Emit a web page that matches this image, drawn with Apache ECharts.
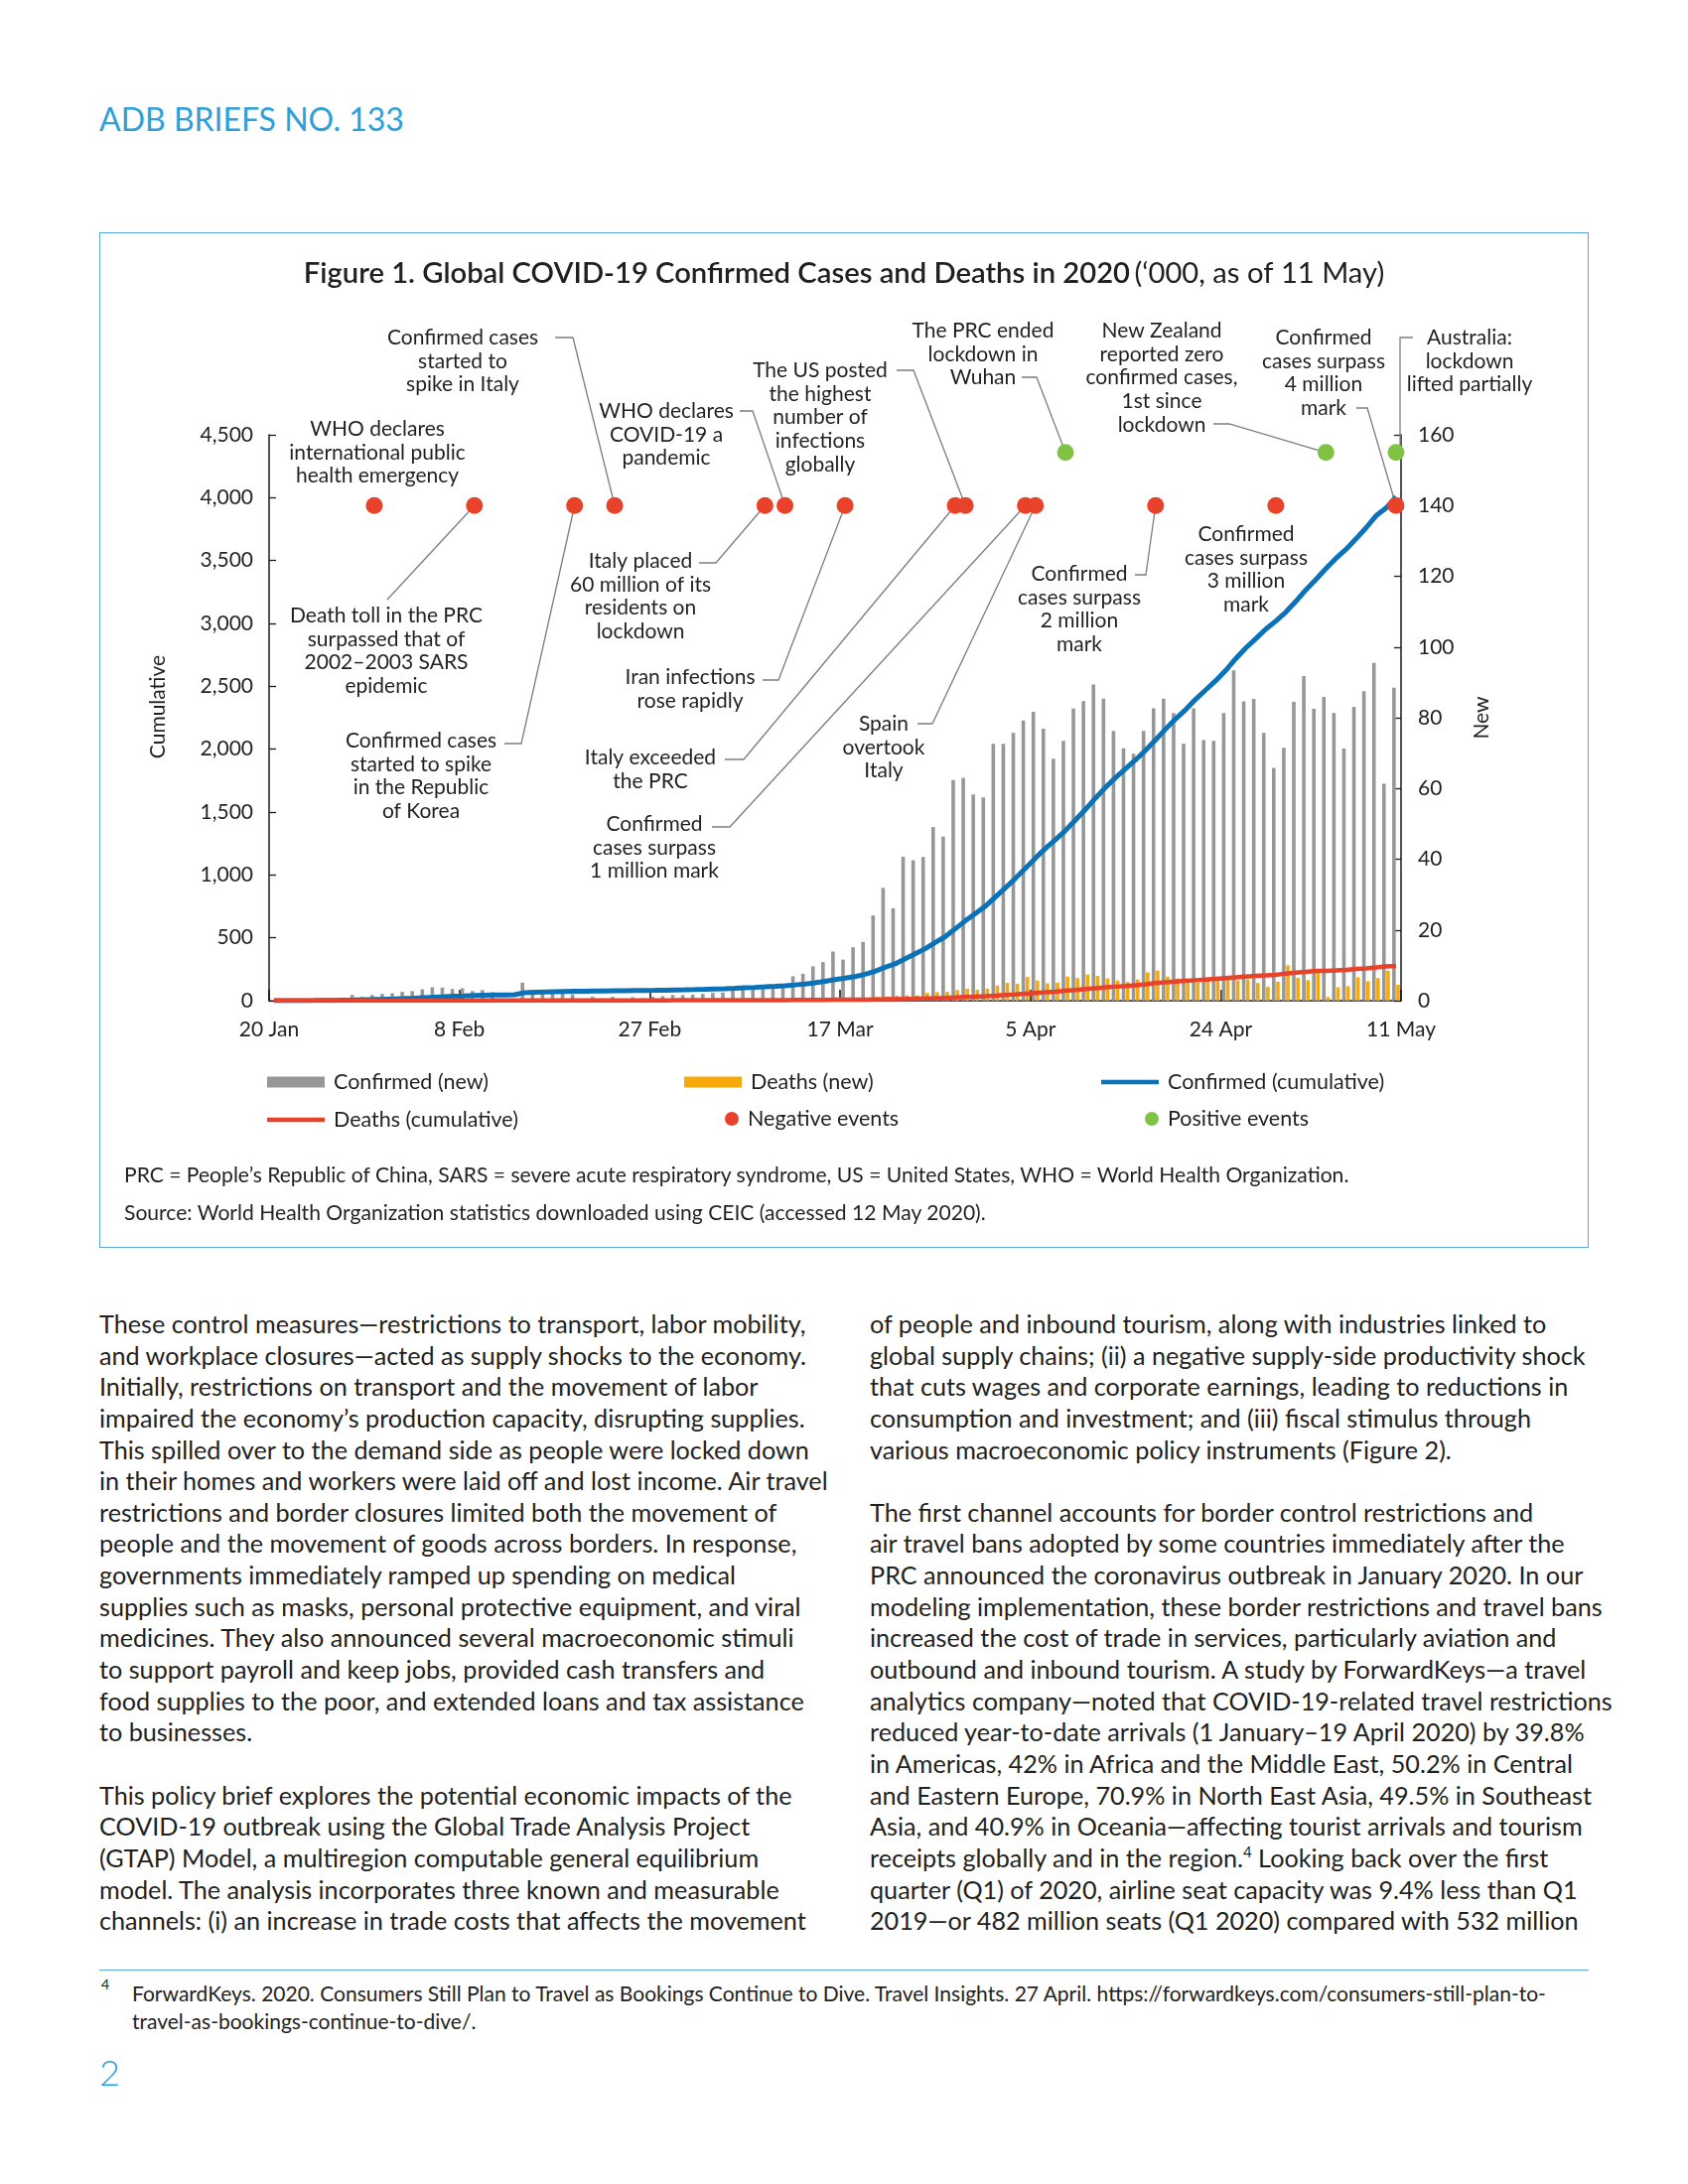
<!DOCTYPE html>
<html>
<head>
<meta charset="utf-8">
<script src="https://cdn.jsdelivr.net/npm/echarts@6.0.0/dist/echarts.min.js"></script>
<style>
  html, body { margin: 0; padding: 0; background: #ffffff; }
  body { width: 1700px; height: 2200px; position: relative; font-family: Lato, "Open Sans", sans-serif; color: #231f20; overflow: hidden; }
  #hdr { position: absolute; left: 100px; top: 100px; font-size: 32px; line-height: 40px; color: #2d9fd9; }
  #box { position: absolute; left: 100px; top: 234px; width: 1500px; height: 1023px; border: 1.5px solid #5aa8d8; box-sizing: border-box; }
  #chart { position: absolute; left: 0; top: 0; width: 1700px; height: 1270px; }
  .note { position: absolute; left: 125px; font-size: 21.1px; line-height: 24px; white-space: nowrap; }
  .col { position: absolute; top: 1318px; font-size: 25.2px; line-height: 31.65px; white-space: nowrap; }
  .col div { height: 31.65px; }
  sup { font-size: 15px; line-height: 0; vertical-align: 10px; }
  #rule { position: absolute; left: 100px; top: 1984px; width: 1500px; height: 0; border-top: 1.2px solid #5aa8d8; }
  #fn { position: absolute; left: 133px; top: 1994px; font-size: 21px; line-height: 28px; white-space: nowrap; }
  #fnum { position: absolute; left: 102px; top: 1991px; font-size: 14px; line-height: 16px; }
  #pg { position: absolute; left: 100px; top: 2066px; font-size: 36px; line-height: 42px; color: #2d9fd9; font-weight: 300; }
</style>
</head>
<body>
<div id="hdr">ADB BRIEFS NO. 133</div>
<div id="box"></div>
<div id="chart"></div>
<div class="note" style="top:1171px">PRC = People’s Republic of China, SARS = severe acute respiratory syndrome, US = United States, WHO = World Health Organization.</div>
<div class="note" style="top:1209px">Source: World Health Organization statistics downloaded using CEIC (accessed 12 May 2020).</div>

<div class="col" style="left:100px">
<div>These control measures—restrictions to transport, labor mobility,</div>
<div>and workplace closures—acted as supply shocks to the economy.</div>
<div>Initially, restrictions on transport and the movement of labor</div>
<div>impaired the economy’s production capacity, disrupting supplies.</div>
<div>This spilled over to the demand side as people were locked down</div>
<div>in their homes and workers were laid off and lost income. Air travel</div>
<div>restrictions and border closures limited both the movement of</div>
<div>people and the movement of goods across borders. In response,</div>
<div>governments immediately ramped up spending on medical</div>
<div>supplies such as masks, personal protective equipment, and viral</div>
<div>medicines. They also announced several macroeconomic stimuli</div>
<div>to support payroll and keep jobs, provided cash transfers and</div>
<div>food supplies to the poor, and extended loans and tax assistance</div>
<div>to businesses.</div>
<div></div>
<div>This policy brief explores the potential economic impacts of the</div>
<div>COVID-19 outbreak using the Global Trade Analysis Project</div>
<div>(GTAP) Model, a multiregion computable general equilibrium</div>
<div>model. The analysis incorporates three known and measurable</div>
<div>channels: (i) an increase in trade costs that affects the movement</div>
</div>

<div class="col" style="left:876px">
<div>of people and inbound tourism, along with industries linked to</div>
<div>global supply chains; (ii) a negative supply-side productivity shock</div>
<div>that cuts wages and corporate earnings, leading to reductions in</div>
<div>consumption and investment; and (iii) fiscal stimulus through</div>
<div>various macroeconomic policy instruments (Figure 2).</div>
<div></div>
<div>The first channel accounts for border control restrictions and</div>
<div>air travel bans adopted by some countries immediately after the</div>
<div>PRC announced the coronavirus outbreak in January 2020. In our</div>
<div>modeling implementation, these border restrictions and travel bans</div>
<div>increased the cost of trade in services, particularly aviation and</div>
<div>outbound and inbound tourism. A study by ForwardKeys—a travel</div>
<div>analytics company—noted that COVID-19-related travel restrictions</div>
<div>reduced year-to-date arrivals (1 January–19 April 2020) by 39.8%</div>
<div>in Americas, 42% in Africa and the Middle East, 50.2% in Central</div>
<div>and Eastern Europe, 70.9% in North East Asia, 49.5% in Southeast</div>
<div>Asia, and 40.9% in Oceania—affecting tourist arrivals and tourism</div>
<div>receipts globally and in the region.<sup>4</sup> Looking back over the first</div>
<div>quarter (Q1) of 2020, airline seat capacity was 9.4% less than Q1</div>
<div>2019—or 482 million seats (Q1 2020) compared with 532 million</div>
</div>

<div id="rule"></div>
<div id="fnum">4</div>
<div id="fn">ForwardKeys. 2020. Consumers Still Plan to Travel as Bookings Continue to Dive. Travel Insights. 27 April. https://forwardkeys.com/consumers-still-plan-to-<br>travel-as-bookings-continue-to-dive/.</div>
<div id="pg">2</div>

<script>
// ---------------- DATA ----------------
const categories = [
  '20 Jan','21 Jan','22 Jan','23 Jan','24 Jan','25 Jan','26 Jan','27 Jan','28 Jan','29 Jan','30 Jan','31 Jan',
  '1 Feb','2 Feb','3 Feb','4 Feb','5 Feb','6 Feb','7 Feb','8 Feb','9 Feb','10 Feb','11 Feb','12 Feb','13 Feb','14 Feb','15 Feb',
  '16 Feb','17 Feb','18 Feb','19 Feb','20 Feb','21 Feb','22 Feb','23 Feb','24 Feb','25 Feb','26 Feb','27 Feb','28 Feb','29 Feb',
  '1 Mar','2 Mar','3 Mar','4 Mar','5 Mar','6 Mar','7 Mar','8 Mar','9 Mar','10 Mar','11 Mar','12 Mar','13 Mar','14 Mar','15 Mar',
  '16 Mar','17 Mar','18 Mar','19 Mar','20 Mar','21 Mar','22 Mar','23 Mar','24 Mar','25 Mar','26 Mar','27 Mar','28 Mar','29 Mar',
  '30 Mar','31 Mar',
  '1 Apr','2 Apr','3 Apr','4 Apr','5 Apr','6 Apr','7 Apr','8 Apr','9 Apr','10 Apr','11 Apr','12 Apr','13 Apr','14 Apr','15 Apr',
  '16 Apr','17 Apr','18 Apr','19 Apr','20 Apr','21 Apr','22 Apr','23 Apr','24 Apr','25 Apr','26 Apr','27 Apr','28 Apr','29 Apr',
  '30 Apr',
  '1 May','2 May','3 May','4 May','5 May','6 May','7 May','8 May','9 May','10 May','11 May'
];

// '000, new confirmed cases per day (right axis)
const confirmedNew = [
  0.3, 0.03, 0.27, 0.27, 0.47, 0.5, 0.5, 0.5, 1.6, 1.1,
  1.6, 1.9, 2.1, 2.5, 2.7, 3.2, 3.8, 3.7, 3.3, 3.5,
  2.7, 3.0, 2.4, 0.6, 0.6, 5.1, 2.0, 2.0, 2.0, 2.0,
  1.8, 0.5, 1.1, 0.6, 1.1, 0.5, 1.0, 0.7, 1.1, 1.3,
  1.6, 1.6, 1.7, 1.9, 2.2, 2.3, 3.2, 3.2, 3.3, 3.4,
  3.5, 3.7, 6.9, 7.6, 9.7, 10.9, 13.9, 11.6, 15.1, 16.6,
  24.1, 31.9, 26.1, 40.7, 39.7, 40.6, 49.1, 46.4, 62.4, 63.0,
  58.3, 57.5, 72.6, 72.6, 75.7, 79.2, 81.7, 76.9, 68.4, 73.5,
  82.6, 84.7, 89.4, 85.4, 76.3, 71.4, 69.8, 76.3, 82.7, 85.4,
  81.3, 72.6, 82.7, 73.7, 73.5, 81.3, 93.4, 84.6, 85.3, 75.7,
  65.8, 71.5, 84.5, 91.8, 82.5, 85.9, 81.3, 71.3, 83.1, 87.5,
  95.5, 61.3, 88.5
];

// '000, new deaths per day (right axis)
const deathsNew = [
  0, 0.006, 0.011, 0.008, 0.016, 0.015, 0.024, 0.026, 0.026, 0.038,
  0.043, 0.046, 0.045, 0.058, 0.064, 0.066, 0.073, 0.073, 0.086, 0.089,
  0.097, 0.108, 0.097, 0.146, 0.122, 0.143, 0.143, 0.106, 0.098, 0.136,
  0.12, 0.118, 0.113, 0.102, 0.156, 0.086, 0.067, 0.033, 0.054, 0.066,
  0.053, 0.073, 0.06, 0.05, 0.125, 0.095, 0.106, 0.098, 0.225, 0.218,
  0.265, 0.321, 0.37, 0.415, 0.337, 0.705, 0.567, 0.419, 0.799, 0.553,
  1.062, 1.2, 1.4, 1.5, 1.5, 2.2, 2.4, 2.5, 3.0, 3.4,
  3.1, 3.4, 4.3, 5.0, 4.8, 6.7, 5.7, 4.9, 5.1, 6.8,
  6.4, 7.4, 7.0, 6.3, 5.7, 5.3, 6.0, 8.0, 8.5, 6.8,
  6.3, 5.3, 5.1, 5.6, 5.6, 6.0, 5.7, 6.0, 5.0, 3.9,
  5.4, 10.0, 6.5, 5.8, 8.0, 1.0, 3.8, 4.1, 6.6, 5.5,
  6.4, 8.5, 4.5
];

// '000, cumulative confirmed cases (left axis)
const confirmedCum = [
  0.28, 0.31, 0.58, 0.85, 1.32, 2.01, 2.80, 4.59, 6.07, 7.82,
  9.83, 11.95, 14.56, 17.39, 20.63, 24.55, 28.28, 31.48, 34.89, 37.56,
  40.55, 43.10, 45.17, 46.00, 47.00, 64.00, 66.50, 69.00, 71.43, 73.33,
  75.20, 75.75, 76.77, 77.79, 78.81, 79.33, 80.24, 81.11, 82.29, 83.65,
  85.40, 87.14, 88.95, 90.87, 93.09, 95.32, 98.19, 101.93, 105.59, 109.58,
  113.70, 118.32, 125.26, 132.76, 142.53, 153.52, 167.52, 179.11, 191.13, 209.84,
  234.07, 266.07, 292.14, 332.93, 372.76, 413.47, 462.68, 509.16, 571.68, 634.84,
  693.22, 750.89, 823.63, 896.45, 972.30, 1051.64, 1133.76, 1210.96, 1279.72, 1353.36,
  1436.20, 1521.25, 1610.91, 1696.59, 1773.08, 1844.86, 1914.92, 1991.56, 2074.53, 2160.21,
  2241.78, 2314.62, 2397.22, 2471.14, 2544.79, 2626.32, 2719.90, 2804.80, 2878.20, 2954.22,
  3018.95, 3090.45, 3175.21, 3267.18, 3349.79, 3435.89, 3517.35, 3588.77, 3672.24, 3759.97,
  3855.79, 3917.37, 4006.26
];

// '000, cumulative deaths (left axis)
const deathsCum = [
  0, 0.006, 0.017, 0.025, 0.041, 0.056, 0.08, 0.106, 0.132, 0.17,
  0.213, 0.259, 0.304, 0.362, 0.426, 0.492, 0.565, 0.638, 0.724, 0.813,
  0.91, 1.018, 1.115, 1.261, 1.383, 1.526, 1.669, 1.775, 1.873, 2.009,
  2.129, 2.247, 2.36, 2.462, 2.618, 2.704, 2.771, 2.804, 2.858, 2.924,
  2.977, 3.05, 3.11, 3.16, 3.285, 3.38, 3.486, 3.584, 3.809, 4.027,
  4.292, 4.613, 4.983, 5.398, 5.735, 6.44, 7.007, 7.426, 8.225, 8.778,
  9.84, 11.0, 12.4, 13.9, 15.4, 17.6, 20.0, 22.5, 25.5, 28.9,
  32.0, 35.4, 39.7, 44.7, 49.5, 56.2, 61.9, 66.8, 71.9, 78.7,
  85.1, 92.5, 99.5, 105.8, 111.5, 116.8, 122.8, 130.8, 139.3, 146.1,
  152.4, 157.7, 162.8, 168.4, 174.0, 180.0, 185.7, 191.7, 196.7, 200.6,
  206.0, 216.0, 222.5, 228.3, 236.3, 237.3, 241.1, 245.2, 251.8, 257.3,
  263.7, 272.2, 276.7
];

// Event markers (plotted on the right axis)
const negativeEvents = ['30 Jan','9 Feb','19 Feb','23 Feb','9 Mar','11 Mar','17 Mar','28 Mar','29 Mar','4 Apr','5 Apr','17 Apr','29 Apr','11 May'];
const positiveEvents = ['8 Apr','4 May','11 May'];
const negativeLevel = 140;
const positiveLevel = 155;

// X tick labels at category boundaries
const xTickLabels = ['20 Jan','8 Feb','27 Feb','17 Mar','5 Apr','24 Apr','11 May'];
const xTickPositions = [0, 19, 38, 57, 76, 95, 113];

// Event annotations (text layout in pixels; leader ends at the event marker)
const annotations = [
  { lines: ['WHO declares','international public','health emergency'], cx: 380, cy: 432 },
  { lines: ['Confirmed cases','started to','spike in Italy'], cx: 466, cy: 340, lead: [[559,340],[577,340]], event: '23 Feb', kind: 'neg' },
  { lines: ['WHO declares','COVID-19 a','pandemic'], cx: 671, cy: 414, lead: [[745,414],[758,414]], event: '11 Mar', kind: 'neg' },
  { lines: ['The US posted','the highest','number of','infections','globally'], cx: 826, cy: 373, lead: [[903,373],[920,373]], event: '29 Mar', kind: 'neg' },
  { lines: ['The PRC ended','lockdown in','Wuhan'], cx: 990, cy: 333, lead: [[1029,380],[1044,380]], event: '8 Apr', kind: 'pos' },
  { lines: ['New Zealand','reported zero','confirmed cases,','1st since','lockdown'], cx: 1170, cy: 333, lead: [[1222,427],[1238,427]], event: '4 May', kind: 'pos' },
  { lines: ['Confirmed','cases surpass','4 million','mark'], cx: 1333, cy: 340, lead: [[1366,411],[1377,411]], event: '11 May', kind: 'neg' },
  { lines: ['Australia:','lockdown','lifted partially'], cx: 1480, cy: 340, lead: [[1423,340],[1410,340]], event: '11 May', kind: 'pos', vertical: true },
  { lines: ['Death toll in the PRC','surpassed that of','2002–2003 SARS','epidemic'], cx: 389, cy: 620, lead: [[390,604]], event: '9 Feb', kind: 'neg' },
  { lines: ['Confirmed cases','started to spike','in the Republic','of Korea'], cx: 424, cy: 746, lead: [[508,749],[525,749]], event: '19 Feb', kind: 'neg' },
  { lines: ['Italy placed','60 million of its','residents on','lockdown'], cx: 645, cy: 565, lead: [[704,567],[721,567]], event: '9 Mar', kind: 'neg' },
  { lines: ['Iran infections','rose rapidly'], cx: 695, cy: 682, lead: [[768,685],[784,685]], event: '17 Mar', kind: 'neg' },
  { lines: ['Italy exceeded','the PRC'], cx: 655, cy: 763, lead: [[730,765],[749,765]], event: '28 Mar', kind: 'neg' },
  { lines: ['Confirmed','cases surpass','1 million mark'], cx: 659, cy: 830, lead: [[717,833],[735,833]], event: '4 Apr', kind: 'neg' },
  { lines: ['Spain','overtook','Italy'], cx: 890, cy: 729, lead: [[924,729],[939,729]], event: '5 Apr', kind: 'neg' },
  { lines: ['Confirmed','cases surpass','2 million','mark'], cx: 1087, cy: 578, lead: [[1143,579],[1154,579]], event: '17 Apr', kind: 'neg' },
  { lines: ['Confirmed','cases surpass','3 million','mark'], cx: 1255, cy: 538 }
];

// ---------------- STYLE ----------------
const C_GRAY = '#979797', C_ORANGE = '#f7a90b', C_BLUE = '#0b72b8', C_RED = '#e8422b', C_GREEN = '#80c342';
const TXT = '#231f20';
const FONT = 'Lato';

const chart = echarts.init(document.getElementById('chart'), null, { renderer: 'canvas' });

function legendItem(name, left, top, w, h, icon) {
  const o = {
    data: [name], left: left, top: top, padding: 0, itemWidth: w, itemHeight: h,
    selectedMode: false,
    textStyle: { fontFamily: FONT, fontSize: 21.5, color: TXT, padding: [0, 0, 0, 4] }
  };
  if (icon) o.icon = icon;
  return o;
}

const option = {
  animation: false,
  textStyle: { fontFamily: FONT },
  title: {
    text: '{b|Figure 1. Global COVID-19 Confirmed Cases and Deaths in 2020} {n|(‘000, as of 11 May)}',
    left: 'center', top: 261, padding: 0,
    textStyle: {
      rich: {
        b: { fontFamily: FONT, fontSize: 29.2, fontWeight: 600, color: TXT },
        n: { fontFamily: FONT, fontSize: 29.2, fontWeight: 400, color: TXT }
      }
    }
  },
  legend: [
    legendItem('Confirmed (new)', 269, 1079, 58, 11, 'rect'),
    legendItem('Deaths (new)', 689, 1079, 58, 11, 'rect'),
    legendItem('Confirmed (cumulative)', 1109, 1079, 58, 4.5, 'rect'),
    legendItem('Deaths (cumulative)', 269, 1117, 58, 4.5, 'rect'),
    legendItem('Negative events', 730, 1116, 14, 14, 'circle'),
    legendItem('Positive events', 1153, 1116, 14, 14, 'circle')
  ],
  grid: { left: 271, top: 438, width: 1140, height: 570, containLabel: false },
  xAxis: [
    {
      type: 'category', data: categories, boundaryGap: true, position: 'bottom',
      axisLine: { show: true, lineStyle: { color: '#1a1a1a', width: 1.5 } },
      axisTick: { show: false }, axisLabel: { show: false }, splitLine: { show: false }
    },
    {
      type: 'value', min: 0, max: 113, interval: 19, position: 'bottom',
      axisLine: { show: false },
      axisTick: { show: true, inside: true, length: 11, lineStyle: { color: '#1a1a1a', width: 1.6 } },
      axisLabel: {
        show: true, margin: 19, fontFamily: FONT, fontSize: 21, color: TXT,
        showMinLabel: true, showMaxLabel: true,
        formatter: function (v) {
          const i = xTickPositions.indexOf(Math.round(v));
          return i >= 0 ? xTickLabels[i] : '';
        }
      },
      splitLine: { show: false }
    }
  ],
  yAxis: [
    {
      type: 'value', min: 0, max: 4500, interval: 500, position: 'left',
      axisLine: { show: true, lineStyle: { color: '#1a1a1a', width: 1.5 } },
      axisTick: { show: true, inside: true, length: 7, lineStyle: { color: '#1a1a1a', width: 1.3 } },
      axisLabel: { margin: 16, fontFamily: FONT, fontSize: 21, color: TXT },
      splitLine: { show: false }
    },
    {
      type: 'value', min: 0, max: 160, interval: 20, position: 'right',
      axisLine: { show: true, lineStyle: { color: '#1a1a1a', width: 1.5 } },
      axisTick: { show: true, inside: true, length: 7, lineStyle: { color: '#1a1a1a', width: 1.3 } },
      axisLabel: { margin: 17, fontFamily: FONT, fontSize: 21, color: TXT },
      splitLine: { show: false }
    }
  ],
  series: [
    {
      name: 'Confirmed (new)', type: 'bar', xAxisIndex: 0, yAxisIndex: 1, data: confirmedNew,
      barWidth: 3.6, barGap: '15%', itemStyle: { color: C_GRAY }, z: 1
    },
    {
      name: 'Deaths (new)', type: 'bar', xAxisIndex: 0, yAxisIndex: 1, data: deathsNew,
      barWidth: 3.6, barGap: '15%', itemStyle: { color: C_ORANGE }, z: 1
    },
    {
      name: 'Confirmed (cumulative)', type: 'line', xAxisIndex: 0, yAxisIndex: 0, data: confirmedCum,
      symbol: 'none', showSymbol: false, lineStyle: { color: C_BLUE, width: 5 }, itemStyle: { color: C_BLUE }, z: 3
    },
    {
      name: 'Deaths (cumulative)', type: 'line', xAxisIndex: 0, yAxisIndex: 0, data: deathsCum,
      symbol: 'none', showSymbol: false, lineStyle: { color: C_RED, width: 4.5 }, itemStyle: { color: C_RED }, z: 4
    },
    {
      name: 'Negative events', type: 'scatter', xAxisIndex: 0, yAxisIndex: 1,
      data: negativeEvents.map(function (d) { return [d, negativeLevel]; }),
      symbol: 'circle', symbolSize: 17, itemStyle: { color: C_RED, opacity: 1 }, z: 6
    },
    {
      name: 'Positive events', type: 'scatter', xAxisIndex: 0, yAxisIndex: 1,
      data: positiveEvents.map(function (d) { return [d, positiveLevel]; }),
      symbol: 'circle', symbolSize: 17, itemStyle: { color: C_GREEN, opacity: 1 }, z: 6
    }
  ]
};

chart.setOption(option);

// ---- annotations, leaders and axis titles as graphic elements ----
const LH = 23.8;
const elements = [];
annotations.forEach(function (a) {
  elements.push({
    type: 'text', z: 2, silent: true,
    style: {
      text: a.lines.join('\n'), x: a.cx, y: a.cy - LH / 2,
      fill: TXT, font: '21px ' + FONT, align: 'center', verticalAlign: 'top', lineHeight: LH
    }
  });
  if (a.lead) {
    const lvl = a.kind === 'pos' ? positiveLevel : negativeLevel;
    const p = chart.convertToPixel({ xAxisIndex: 0, yAxisIndex: 1 }, [a.event, lvl]);
    const pts = a.lead.slice();
    if (a.vertical) pts.push([pts[pts.length - 1][0], p[1]]);
    else pts.push([p[0], p[1]]);
    elements.push({
      type: 'polyline', z: 1, silent: true,
      shape: { points: pts },
      style: { stroke: '#7d7d7d', lineWidth: 1.3, fill: null }
    });
  }
});
elements.push({
  type: 'text', z: 2, silent: true, x: 159, y: 712, rotation: Math.PI / 2,
  style: { text: 'Cumulative', x: 0, y: 0, fill: TXT, font: '21px ' + FONT, align: 'center', verticalAlign: 'middle' }
});
elements.push({
  type: 'text', z: 2, silent: true, x: 1492, y: 723, rotation: Math.PI / 2,
  style: { text: 'New', x: 0, y: 0, fill: TXT, font: '21px ' + FONT, align: 'center', verticalAlign: 'middle' }
});
chart.setOption({ graphic: { elements: elements } });
</script>
</body>
</html>
